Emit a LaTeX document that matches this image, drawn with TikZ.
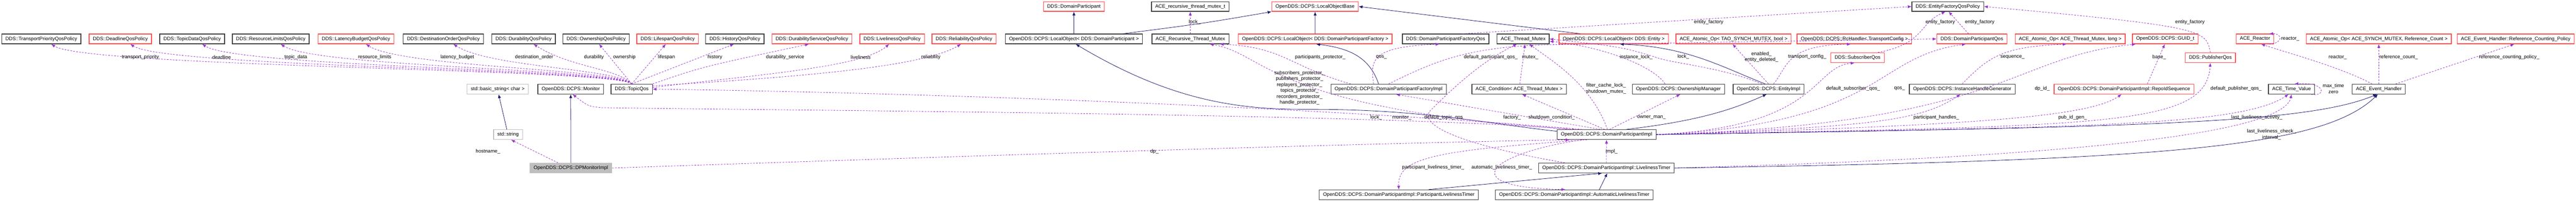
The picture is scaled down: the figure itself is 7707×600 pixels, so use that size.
\documentclass[tikz,border=0pt]{standalone}
\usepackage{fontspec}
\setmainfont{Liberation Sans}
\usetikzlibrary{arrows.meta,calc}
\definecolor{usecol}{HTML}{9A32CD}
\definecolor{inhcol}{HTML}{191970}
\definecolor{redbox}{HTML}{FF4D4D}
\definecolor{blackbox}{HTML}{404040}
\definecolor{graybox}{HTML}{BFBFBF}
\tikzset{
  cls/.style={draw=blackbox, line width=0.6pt, fill=white, minimum height=0.29cm,
    inner xsep=3.2pt, inner ysep=0pt, font=\fontsize{4.2}{5}\selectfont},
  clsred/.style={cls, draw=redbox},
  clsgray/.style={cls, draw=graybox},
  inh/.style={draw=inhcol, line width=0.35pt, -{Latex[length=3.2pt,width=2.6pt]}},
  use/.style={draw=usecol, line width=0.35pt, dash pattern=on 1.4pt off 1.1pt,
    -{Latex[length=3.2pt,width=2.6pt]}},
  lbl/.style={font=\fontsize{4.2}{5}\selectfont, inner sep=0pt, align=center}
}
\begin{document}
\begin{tikzpicture}[x=0.01cm,y=-0.01cm]
\useasboundingbox (0,0) rectangle (7707,600);
% top row
\node[clsred] (dp) at (3213,19.5) {DDS::DomainParticipant};
\node[cls] (rmt) at (3561,19.5) {ACE\_recursive\_thread\_mutex\_t};
\node[clsred] (lob) at (3934.5,19.5) {OpenDDS::DCPS::LocalObjectBase};
\node[cls] (efq) at (5827.5,19.5) {DDS::EntityFactoryQosPolicy};
% policies and helpers
\node[cls] (tpq) at (123.5,116.5) {DDS::TransportPriorityQosPolicy};
\node[clsred] (dlq) at (360,116.5) {DDS::DeadlineQosPolicy};
\node[cls] (tdq) at (575,116.5) {DDS::TopicDataQosPolicy};
\node[cls] (rlq) at (810,116.5) {DDS::ResourceLimitsQosPolicy};
\node[clsred] (lbq) at (1065,116.5) {DDS::LatencyBudgetQosPolicy};
\node[cls] (doq) at (1326.5,116.5) {DDS::DestinationOrderQosPolicy};
\node[cls] (duq) at (1566.5,116.5) {DDS::DurabilityQosPolicy};
\node[cls] (owq) at (1783.5,116.5) {DDS::OwnershipQosPolicy};
\node[clsred] (lsq) at (1997.5,116.5) {DDS::LifespanQosPolicy};
\node[cls] (hiq) at (2198.5,116.5) {DDS::HistoryQosPolicy};
\node[clsred] (dsq) at (2429,116.5) {DDS::DurabilityServiceQosPolicy};
\node[clsred] (lvq) at (2669,116.5) {DDS::LivelinessQosPolicy};
\node[clsred] (req) at (2884,116.5) {DDS::ReliabilityQosPolicy};
\node[cls] (lodp) at (3213,116.5) {OpenDDS::DCPS::LocalObject< DDS::DomainParticipant >};
\node[cls] (rtm) at (3561.5,116.5) {ACE\_Recursive\_Thread\_Mutex};
\node[clsred] (lodpf) at (3935,116.5) {OpenDDS::DCPS::LocalObject< DDS::DomainParticipantFactory >};
\node[cls] (dpfq) at (4325,116.5) {DDS::DomainParticipantFactoryQos};
\node[cls] (atm) at (4557,116.5) {ACE\_Thread\_Mutex};
\node[clsred] (loe) at (4828,116.5) {OpenDDS::DCPS::LocalObject< DDS::Entity >};
\node[clsred] (aob) at (5186.5,116.5) {ACE\_Atomic\_Op< TAO\_SYNCH\_MUTEX, bool >};
\node[clsred] (rch) at (5548,116.5) {OpenDDS::DCPS::RcHandle< TransportConfig >};
\node[clsred] (dpq) at (5899.5,116.5) {DDS::DomainParticipantQos};
\node[clsred] (aol) at (6193.5,116.5) {ACE\_Atomic\_Op< ACE\_Thread\_Mutex, long >};
\node[clsred] (guid) at (6478,116.5) {OpenDDS::DCPS::GUID\_t};
\node[clsred] (rea) at (6746.5,116.5) {ACE\_Reactor};
\node[clsred] (aor) at (7117,116.5) {ACE\_Atomic\_Op< ACE\_SYNCH\_MUTEX, Reference\_Count >};
\node[clsred] (rcp) at (7526.5,116.5) {ACE\_Event\_Handler::Reference\_Counting\_Policy};
\node[clsred] (sq) at (5557.5,172.5) {DDS::SubscriberQos};
\node[clsred] (pq) at (6613,172.5) {DDS::PublisherQos};
% middle row
\node[clsgray] (bstr) at (1489,266.5) {std::basic\_string< char >};
\node[cls] (mon) at (1707.5,266.5) {OpenDDS::DCPS::Monitor};
\node[cls] (tq) at (1890,266.5) {DDS::TopicQos};
\node[cls] (dpfi) at (4154.5,266.5) {OpenDDS::DCPS::DomainParticipantFactoryImpl};
\node[cls] (cond) at (4545,266.5) {ACE\_Condition< ACE\_Thread\_Mutex >};
\node[cls] (own) at (5021.5,266.5) {OpenDDS::DCPS::OwnershipManager};
\node[cls] (ent) at (5291,266.5) {OpenDDS::DCPS::EntityImpl};
\node[cls] (ihg) at (5870.5,266.5) {OpenDDS::DCPS::InstanceHandleGenerator};
\node[clsred] (ris) at (6354.5,266.5) {OpenDDS::DCPS::DomainParticipantImpl::RepoIdSequence};
\node[cls] (tv) at (6856,266.5) {ACE\_Time\_Value};
\node[cls] (eh) at (7117,266.5) {ACE\_Event\_Handler};
% lower rows
\node[clsgray] (str) at (1520,402.5) {std::string};
\node[cls] (dpi) at (4806.5,402.5) {OpenDDS::DCPS::DomainParticipantImpl};
\node[clsgray, fill=graybox] (mimpl) at (1708,502.5) {OpenDDS::DCPS::DPMonitorImpl};
\node[cls] (lt) at (4806,502.5) {OpenDDS::DCPS::DomainParticipantImpl::LivelinessTimer};
\node[cls] (plt) at (4185,582.5) {OpenDDS::DCPS::DomainParticipantImpl::ParticipantLivelinessTimer};
\node[cls] (alt) at (4710,582.5) {OpenDDS::DCPS::DomainParticipantImpl::AutomaticLivelinessTimer};

% monitor side
\draw[inh] (mimpl) -- (mon);
\draw[use] (mimpl.north west) ++(85,0) coordinate (mh) (mh) -- (str.-60);
\draw[inh] (str) -- (bstr.-80);
\draw[use] (mimpl.east) .. controls (2800,470) and (4000,430) .. (dpi.188);
\node[lbl] (l-host) at (1460,453) {hostname\_};
\node[lbl] (l-dp) at (3454,453) {dp\_};
\draw[use] (dpi.172) .. controls (4200,340) and (2300,330) .. (1800,322) .. controls (1760,318) .. (mon.-70);
\node[lbl] (l-mon) at (4194,351) {monitor\_};
\draw[use] (dpi.168) .. controls (3800,310) and (2600,275) .. (tq.east);
\node[lbl] (l-dtq) at (4323,351) {default\_topic\_qos\_};

% topic qos policies
\foreach \t/\lx/\lt in {tpq/420/transport\_priority, dlq/663/deadline, tdq/885/topic\_data,
    rlq/1121/resource\_limits, lbq/1368/latency\_budget, doq/1598/destination\_order,
    duq/1777/durability}{
  \draw[use] (tq.north) .. controls (1850,205) and ($(\t.south)+(140,70)$) .. ($(\t.south)+(30,0)$);
  \node[lbl] at (\lx,171) {\lt};
}
\draw[use] (tq.north) -- (owq.-60);
\node[lbl] (l-own) at (1868,171) {ownership};
\draw[use] (tq.north) -- (lsq.-110);
\node[lbl] (l-ls) at (1994,171) {lifespan};
\draw[use] (tq.north) -- (hiq.-100);
\node[lbl] (l-hi) at (2139,171) {history};
\draw[use] (tq.north east) .. controls (2100,200) .. (dsq.-120);
\node[lbl] (l-ds) at (2349,171) {durability\_service};
\draw[use] (tq.east) ++(0,-5) coordinate (tqa) (tqa) .. controls (2300,220) and (2580,200) .. (lvq.-120);
\node[lbl] (l-lv) at (2575,171) {liveliness};
\draw[use] (tq.east) ++(0,-10) coordinate (tqb) (tqb) .. controls (2400,230) and (2760,200) .. (req.-120);
\node[lbl] (l-re) at (2785,171) {reliability};

% local objects
\draw[inh] (lodp) -- (dp);
\draw[inh] (lodp.north east) ++(-60,0) coordinate (lda) (lda) .. controls (3600,70) .. (lob.south west);
\draw[inh] (lodpf) -- (lob);
\draw[inh] (loe.north) ++(-100,0) coordinate (lea) (lea) -- (lob.east);
\draw[use] (rtm) -- (rmt);
\node[lbl] (l-lock1) at (3574,66) {lock\_};
\draw[inh] (dpi.west) ++(0,-10) coordinate (dpa) (dpa) .. controls (4450,370) and (4250,325) .. (3900,327)
   .. controls (3700,327) and (3500,300) .. (lodp.-70);

% factory impl
\draw[use] (dpi.170) .. controls (3800,330) and (3790,160) .. (rtm.-15);
\node[lbl] (l-prot) at (3888,263) {subscribers\_protector\_\\publishers\_protector\_\\replayers\_protector\_\\topics\_protector\_\\recorders\_protector\_\\handle\_protector\_};
\draw[use] (dpfi.north west) ++(60,0) coordinate (dfa) (dfa) .. controls (3860,200) and (3840,140) .. (rtm.-10);
\node[lbl] (l-pp) at (3950,171) {participants\_protector\_};
\draw[inh] (dpfi.north) ++(-30,0) coordinate (dfb) (dfb) .. controls (4100,180) and (4050,145) .. (lodpf.-80);
\draw[use] (dpfi.north) ++(-45,0) coordinate (dfc) (dfc) .. controls (4100,180) and (4100,140) .. (dpfq.-140);
\node[lbl] (l-qos1) at (4133,171) {qos\_};
\draw[use] (dpfi.north) ++(0,0) coordinate (dfd) (dfd) .. controls (4300,180) and (4400,133) .. (4700,133) -- (dpq.west);
\node[lbl] (l-dpq) at (4460,171) {default\_participant\_qos\_};
\draw[use] (dpi.140) -- (dpfi.-35);
\node[lbl] (l-fac) at (4524,351) {factory\_};
\draw[use] (cond) -- (atm.-70);
\node[lbl] (l-mut) at (4578,171) {mutex\_};
\draw[use] (dpi.110) -- (cond.-60);
\node[lbl] (l-sc) at (4642,351) {shutdown\_condition\_};
\draw[use] (dpi.80) .. controls (4760,250) and (4640,180) .. (atm.-40);
\node[lbl] (l-fcl) at (4805,265) {filter\_cache\_lock\_\\shutdown\_mutex\_};
\draw[use] (dpi.60) -- (own.-70);
\node[lbl] (l-om) at (4941,351) {owner\_man\_};
\draw[use] (own.north) ++(-40,0) coordinate (owa) (owa) .. controls (4950,200) and (4800,140) .. (atm.-5);
\node[lbl] (l-il) at (4895,171) {instance\_lock\_};
\draw[use] (lt.north west) ++(80,0) coordinate (lta) (lta) .. controls (4300,420) and (4250,360) .. (4280,330)
   .. controls (4360,250) and (4440,180) .. (atm.-140);
\node[lbl] (l-lock2) at (4117,351) {lock\_};

% entity
\draw[inh] (dpi.north east) ++(-90,0) coordinate (dpb) (dpb) .. controls (5100,360) and (5200,320) .. (ent.-110);
\draw[inh] (ent.north) ++(-10,0) coordinate (ena) (ena) .. controls (5150,200) and (5050,140) .. (loe.-40);
\draw[use] (ent.north) ++(-20,0) coordinate (enb) (enb) .. controls (5150,200) and (5000,190) .. (4950,170)
   .. controls (4850,140) .. (atm.east);
\node[lbl] (l-lock3) at (5036,170) {lock\_};
\draw[use] (ent.north) -- (aob.-100);
\node[lbl] (l-en) at (5270,170) {enabled\_\\entity\_deleted\_};
\draw[use] (ent.north) ++(15,0) coordinate (enc) (enc) .. controls (5350,200) and (5340,135) .. (rch.-125);
\node[lbl] (l-tc) at (5407,170) {transport\_config\_};

% entity factory
\draw[use] (dpfq.north east) ++(-80,0) coordinate (dqa) (dqa) -- (efq.west);
\node[lbl] (l-ef1) at (5112,66) {entity\_factory};
\draw[use] (sq.north east) ++(-20,0) coordinate (sqa) (sqa) .. controls (5760,130) and (5740,70) .. (efq.-115);
\node[lbl] (l-ef2) at (5805,66) {entity\_factory};
\draw[use] (dpq.north) ++(-10,0) coordinate (dqb) (dqb) -- (efq.-80);
\node[lbl] (l-ef3) at (5923,66) {entity\_factory};
\draw[use] (pq.north) .. controls (6600,90) and (6600,80) .. (efq.east);
\node[lbl] (l-ef4) at (6552,66) {entity\_factory};

% participant impl members
\draw[use] (dpi.east) .. controls (5450,380) and (5420,200) .. (sq.-120);
\node[lbl] (l-dsq) at (5544,265) {default\_subscriber\_qos\_};
\draw[use] (dpi.east) .. controls (5640,370) and (5600,170) .. (dpq.-140);
\node[lbl] (l-qos2) at (5683,265) {qos\_};
\draw[use] (dpi.east) .. controls (5600,380) and (5750,360) .. (ihg.-110);
\node[lbl] (l-ph) at (5793,351) {participant\_handles\_};
\draw[use] (ihg.north) .. controls (5950,170) and (5990,140) .. (aol.-125);
\node[lbl] (l-seq) at (6021,171) {sequence\_};
\draw[use] (dpi.east) .. controls (6000,370) and (6010,170) .. (guid.-170);
\node[lbl] (l-dpid) at (6110,265) {dp\_id\_};
\draw[use] (ris.north) ++(70,0) coordinate (rsa) (rsa) -- (guid.-95);
\node[lbl] (l-base) at (6460,171) {base\_};
\draw[use] (dpi.east) .. controls (5900,375) and (6250,350) .. (ris.-115);
\node[lbl] (l-pig) at (6201,351) {pub\_id\_gen\_};
\draw[use] (dpi.east) .. controls (6300,375) and (6600,380) .. (pq.south);
\node[lbl] (l-dpuq) at (6690,265) {default\_publisher\_qos\_};
\draw[use] (dpi.east) .. controls (6200,380) and (6700,380) .. (tv.-120);
\node[lbl] (l-lla) at (6752,351) {last\_liveliness\_activity\_};
\draw[use] (lt.east) .. controls (6200,470) and (6830,400) .. (tv.-90);
\node[lbl] (l-llc) at (6796,402) {last\_liveliness\_check\_\\interval\_};
\draw[use] (tv.-15) .. controls (6960,290) and (6960,245) .. (tv.60);
\node[lbl] (l-mt) at (6981,265) {max\_time\\zero};
\draw[use] (rea.-20) .. controls (6830,130) and (6830,100) .. (rea.20);
\node[lbl] (l-rea1) at (6852,116) {reactor\_};
\draw[use] (eh.north) ++(-20,0) coordinate (eha) (eha) .. controls (7000,200) and (6850,160) .. (rea.-40);
\node[lbl] (l-rea2) at (6994,171) {reactor\_};
\draw[use] (eh) -- (aor);
\node[lbl] (l-rc) at (7176,171) {reference\_count\_};
\draw[use] (eh.north east) ++(-30,0) coordinate (ehb) (ehb) -- (rcp.-105);
\node[lbl] (l-rcp) at (7507,171) {reference\_counting\_policy\_};
\draw[inh] (dpi.east) .. controls (6400,380) and (6900,370) .. (eh.-110);
\draw[inh] (lt.east) .. controls (6500,480) and (6950,440) .. (eh.-100);

% liveliness timers
\draw[use] (lt) -- (dpi);
\node[lbl] (l-impl) at (4822,453) {impl\_};
\draw[use] (dpi.195) .. controls (4300,450) and (4180,470) .. (plt.north);
\node[lbl] (l-plt) at (4288,501) {participant\_liveliness\_timer\_};
\draw[use] (dpi.192) .. controls (4450,460) and (4350,560) .. (alt.150);
\node[lbl] (l-alt) at (4493,501) {automatic\_liveliness\_timer\_};
\draw[inh] (plt.north east) ++(-150,0) coordinate (pla) (pla) -- (lt.-130);
\draw[inh] (alt.north) ++(75,0) coordinate (ala) (ala) -- (lt.-80);
\end{tikzpicture}
\end{document}
